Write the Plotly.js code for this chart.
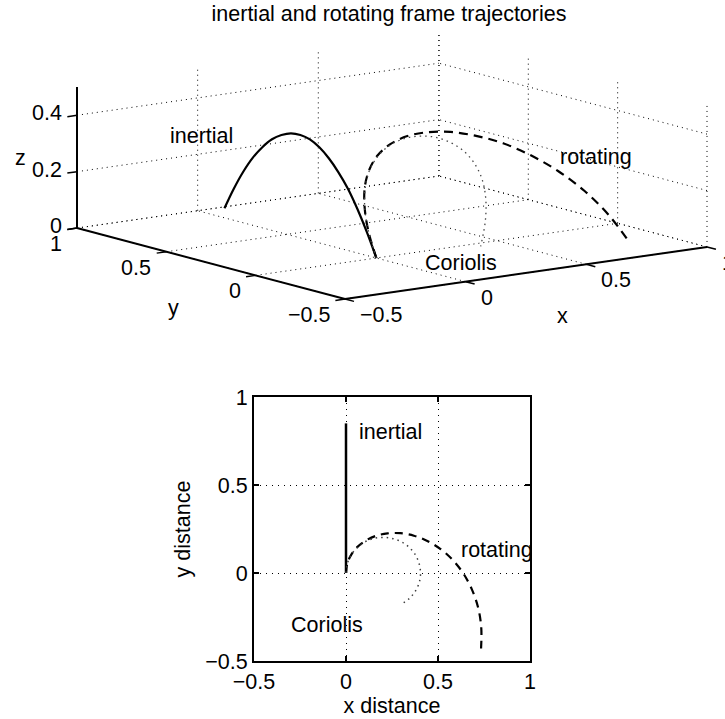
<!DOCTYPE html>
<html>
<head>
<meta charset="utf-8">
<script src="https://cdn.plot.ly/plotly-3.0.1.min.js"></script>
<style>
  html, body { margin: 0; padding: 0; background: #fff; }
  #chart { width: 725px; height: 719px; }
</style>
</head>
<body>
<div id="chart"></div>
<script>
// ---- data ----
// inertial frame trajectory
var inertialX = [0, 0, 0, 0, 0, 0, 0, 0, 0, 0, 0, 0, 0, 0, 0, 0, 0];
var inertialY = [0, 0.053, 0.106, 0.159, 0.213, 0.266, 0.319, 0.372, 0.425, 0.478, 0.531, 0.584, 0.638, 0.691, 0.744, 0.797, 0.85];
var heightZ   = [0, 0.083, 0.156, 0.219, 0.269, 0.309, 0.339, 0.358, 0.365, 0.362, 0.347, 0.323, 0.286, 0.240, 0.182, 0.113, 0.034];
// rotating frame trajectory
var rotX = [0, 0.007, 0.028, 0.061, 0.107, 0.162, 0.226, 0.296, 0.369, 0.442, 0.514, 0.580, 0.638, 0.684, 0.718, 0.735, 0.734];
var rotY = [0, 0.053, 0.103, 0.147, 0.184, 0.211, 0.225, 0.226, 0.212, 0.182, 0.136, 0.074, -0.003, -0.093, -0.196, -0.309, -0.429];
// Coriolis-only trajectory
var corX = [0, 0.007, 0.027, 0.060, 0.102, 0.151, 0.203, 0.256, 0.305, 0.347, 0.379, 0.398, 0.405, 0.398, 0.377, 0.345, 0.302];
var corY = [0, 0.053, 0.101, 0.143, 0.176, 0.196, 0.202, 0.195, 0.175, 0.142, 0.100, 0.051, -0.002, -0.054, -0.103, -0.144, -0.176];

// axes / ticks
var xRange = [-0.5, 1];
var yRange = [-0.5, 1];
var zRange = [0, 0.5];
var tickVals = [-0.5, 0, 0.5, 1];
var tickText = ['\u22120.5', '0', '0.5', '1'];
var zTickVals = [0, 0.2, 0.4];
var zTickText = ['0', '0.2', '0.4'];

var FONT = 'Liberation Sans, Arial, Helvetica, sans-serif';
var FS = 21.5;

// ---- 3-D view (orthographic projection, like MATLAB view(az, el)) ----
var VIEW = { az: 36.4, el: 11.25, Lx: 449.7, Ly: 451.7, Lz: 143.8, cx: 392, cy: 552 };
var DEG = Math.PI / 180;
var ca = Math.cos(VIEW.az * DEG), sa = Math.sin(VIEW.az * DEG);
var ce = Math.cos(VIEW.el * DEG), se = Math.sin(VIEW.el * DEG);
function proj(x, y, z) {
  var u = (x - (xRange[0] + xRange[1]) / 2) / (xRange[1] - xRange[0]) * VIEW.Lx;
  var v = (y - (yRange[0] + yRange[1]) / 2) / (yRange[1] - yRange[0]) * VIEW.Ly;
  var w = (z - (zRange[0] + zRange[1]) / 2) / (zRange[1] - zRange[0]) * VIEW.Lz;
  return [VIEW.cx + u * ca - v * sa, VIEW.cy + (u * sa + v * ca) * se + w * ce];
}
function projLine(xs, ys, zs) {
  var px = [], py = [];
  for (var i = 0; i < xs.length; i++) {
    if (xs[i] === null) { px.push(null); py.push(null); continue; }
    var p = proj(xs[i], ys[i], zs[i]);
    px.push(p[0]); py.push(p[1]);
  }
  return { x: px, y: py };
}
// segments helper: list of [[x,y,z],[x,y,z]] -> projected polyline with gaps
function segs(list) {
  var xs = [], ys = [], zs = [];
  list.forEach(function (s) {
    xs.push(s[0][0], s[1][0], null); ys.push(s[0][1], s[1][1], null); zs.push(s[0][2], s[1][2], null);
  });
  return projLine(xs, ys, zs);
}

// grid on back planes (floor, back wall y=max, side wall x=max)
var gridSegs = [];
tickVals.forEach(function (t) {
  gridSegs.push([[t, yRange[0], zRange[0]], [t, yRange[1], zRange[0]]]);   // floor, const x
  gridSegs.push([[xRange[0], t, zRange[0]], [xRange[1], t, zRange[0]]]);   // floor, const y
  gridSegs.push([[t, yRange[1], zRange[0]], [t, yRange[1], zRange[1]]]);   // back wall verticals
  gridSegs.push([[xRange[1], t, zRange[0]], [xRange[1], t, zRange[1]]]);   // side wall verticals
});
zTickVals.forEach(function (t) {
  gridSegs.push([[xRange[0], yRange[1], t], [xRange[1], yRange[1], t]]);   // back wall horizontals
  gridSegs.push([[xRange[1], yRange[0], t], [xRange[1], yRange[1], t]]);   // side wall horizontals
});
var gridP = segs(gridSegs);

// axis lines
var axisP = segs([
  [[xRange[0], yRange[0], zRange[0]], [xRange[1], yRange[0], zRange[0]]],
  [[xRange[0], yRange[0], zRange[0]], [xRange[0], yRange[1], zRange[0]]],
  [[xRange[0], yRange[1], zRange[0]], [xRange[0], yRange[1], zRange[1]]]
]);
// tick marks (outward)
var tickSegs = [];
tickVals.forEach(function (t) {
  tickSegs.push([[t, yRange[0], zRange[0]], [t, yRange[0] - 0.05, zRange[0]]]);
  tickSegs.push([[xRange[0], t, zRange[0]], [xRange[0] - 0.04, t, zRange[0]]]);
});
zTickVals.forEach(function (t) {
  tickSegs.push([[xRange[0], yRange[1], t], [xRange[0] - 0.04, yRange[1], t]]);
});
var tickP = segs(tickSegs);

var inP = projLine(inertialX, inertialY, heightZ);
var rotP = projLine(rotX, rotY, heightZ);
var corP = projLine(corX, corY, heightZ);

function l3(p, line) {
  return { type: 'scatter', mode: 'lines', x: p.x, y: p.y, xaxis: 'x2', yaxis: 'y2',
           line: line, showlegend: false, hoverinfo: 'skip', connectgaps: false };
}

var traces = [
  l3(gridP, { color: 'black', width: 1, dash: '1px,4px' }),
  l3(axisP, { color: 'black', width: 2 }),
  l3(tickP, { color: 'black', width: 1.5 }),
  l3(inP,  { color: 'black', width: 2.2, shape: 'spline' }),
  l3(rotP, { color: 'black', width: 2.2, dash: '9px,6px', shape: 'spline' }),
  l3(corP, { color: 'rgb(70,70,70)', width: 1.3, dash: '1.5px,4px', shape: 'spline' }),

  { type: 'scatter', mode: 'lines', x: inertialX, y: inertialY, xaxis: 'x', yaxis: 'y',
    line: { color: 'black', width: 2.5 }, showlegend: false, hoverinfo: 'skip' },
  { type: 'scatter', mode: 'lines', x: rotX, y: rotY, xaxis: 'x', yaxis: 'y',
    line: { color: 'black', width: 2.2, dash: '8px,6px', shape: 'spline' }, showlegend: false, hoverinfo: 'skip' },
  { type: 'scatter', mode: 'lines', x: corX, y: corY, xaxis: 'x', yaxis: 'y',
    line: { color: 'rgb(60,60,60)', width: 1.5, dash: '1.5px,4px', shape: 'spline' }, showlegend: false, hoverinfo: 'skip' }
];

function axis2d(titleText, standoff) {
  return {
    title: { text: titleText, font: { family: FONT, size: FS, color: 'black' }, standoff: standoff },
    range: [-0.5, 1], autorange: false, fixedrange: true,
    tickmode: 'array', tickvals: tickVals, ticktext: tickText,
    tickfont: { family: FONT, size: FS, color: 'black' },
    showline: true, linecolor: 'black', linewidth: 2, mirror: 'ticks',
    ticks: 'inside', ticklen: 5, tickcolor: 'black', tickwidth: 1.5,
    showgrid: true, gridcolor: 'black', gridwidth: 1, griddash: '1px,5px',
    zeroline: false
  };
}

var xa = axis2d('x distance', 0);
xa.domain = [254 / 725, 530 / 725];
xa.anchor = 'y';
var ya = axis2d('y distance', 9);
ya.domain = [1 - 661 / 719, 1 - 397 / 719];
ya.anchor = 'x';

function ann(text, x, y) {
  return { text: text, x: x / 725, y: 1 - y / 719, xref: 'paper', yref: 'paper',
           xanchor: 'center', yanchor: 'middle', showarrow: false,
           font: { family: FONT, size: FS, color: 'black' } };
}
function ann3(text, p, xanchor, xshift, yshift) {
  return { text: text, x: p[0], y: p[1], xref: 'x2', yref: 'y2',
           xanchor: xanchor, yanchor: 'middle', xshift: xshift, yshift: yshift,
           showarrow: false, font: { family: FONT, size: FS, color: 'black' } };
}

var annotations = [
  ann('inertial', 201, 136),
  ann('rotating', 596, 157),
  ann('Coriolis', 461, 263),
  ann('inertial', 390, 432),
  ann('rotating', 497, 550),
  ann('Coriolis', 327, 625)
];
tickVals.forEach(function (t, i) {
  annotations.push(ann3(tickText[i], proj(t, yRange[0], zRange[0]), 'left', 13, -16));
  annotations.push(ann3(tickText[i], proj(xRange[0], t, zRange[0]), 'right', -13, -16));
});
zTickVals.forEach(function (t, i) {
  annotations.push(ann3(zTickText[i], proj(xRange[0], yRange[1], t), 'right', -13, 2));
});
annotations.push(ann3('x', proj((xRange[0] + xRange[1]) / 2, yRange[0], zRange[0]), 'center', 36, -43));
annotations.push(ann3('y', proj(xRange[0], (yRange[0] + yRange[1]) / 2, zRange[0]), 'center', -38, -44));
annotations.push(ann3('z', proj(xRange[0], yRange[1], (zRange[0] + zRange[1]) / 2), 'center', -57, 0));

var layout = {
  width: 725, height: 719,
  margin: { l: 0, r: 0, t: 0, b: 0 },
  paper_bgcolor: 'white', plot_bgcolor: 'rgba(0,0,0,0)',
  font: { family: FONT, size: FS, color: 'black' },
  showlegend: false,
  title: { text: 'inertial and rotating frame trajectories',
           font: { family: FONT, size: FS, color: 'black' },
           x: 389 / 725, xanchor: 'center', y: 1 - 13 / 719, yanchor: 'middle',
           xref: 'paper', yref: 'container' },
  xaxis: xa,
  yaxis: ya,
  xaxis2: { domain: [0, 1], range: [0, 725], autorange: false, visible: false, fixedrange: true, anchor: 'y2' },
  yaxis2: { domain: [0, 1], range: [0, 719], autorange: false, visible: false, fixedrange: true, anchor: 'x2' },
  annotations: annotations
};

Plotly.newPlot('chart', traces, layout, { displayModeBar: false, staticPlot: true });
</script>
</body>
</html>
